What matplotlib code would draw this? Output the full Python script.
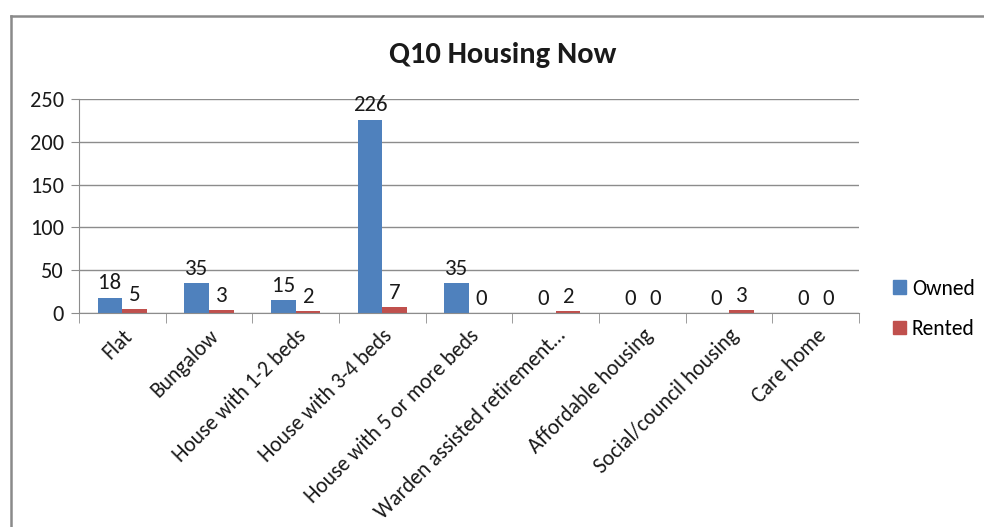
import matplotlib.pyplot as plt
import numpy as np
from matplotlib.lines import Line2D
from matplotlib.patches import Patch

plt.rcParams['font.family'] = ['Carlito', 'Liberation Sans Narrow', 'Open Sans', 'DejaVu Sans']

categories = [
    "Flat", "Bungalow", "House with 1-2 beds", "House with 3-4 beds",
    "House with 5 or more beds", "Warden assisted retirement…",
    "Affordable housing", "Social/council housing", "Care home",
]
owned = [18, 35, 15, 226, 35, 0, 0, 0, 0]
rented = [5, 3, 2, 7, 0, 2, 0, 3, 0]
yticks = [0, 50, 100, 150, 200, 250]

OWNED_COLOR = "#4F81BD"
RENTED_COLOR = "#C0504D"
GRID = "#8c8c8c"
TXT = "#1a1a1a"

fig = plt.figure(figsize=(9.84, 5.27), dpi=100)
ax = fig.add_axes([79 / 984, 214 / 527, 780 / 984, 214 / 527])

x = np.arange(len(categories))
w = 1 / 3.5
b1 = ax.bar(x - w / 2, owned, w, color=OWNED_COLOR)
b2 = ax.bar(x + w / 2, rented, w, color=RENTED_COLOR)

for bars, vals in ((b1, owned), (b2, rented)):
    for bar, v in zip(bars, vals):
        ax.annotate(str(v), (bar.get_x() + bar.get_width() / 2, v),
                    xytext=(0, 3), textcoords="offset points",
                    ha="center", va="bottom", fontsize=16.5, color=TXT)

ax.set_xlim(-0.5, len(categories) - 0.5)
ax.set_ylim(0, 250)
ax.set_yticks(yticks)
ax.yaxis.grid(True, color=GRID, linewidth=1)
ax.set_axisbelow(True)
for s in ("top", "right"):
    ax.spines[s].set_visible(False)
for s in ("left", "bottom"):
    ax.spines[s].set_color(GRID)
ax.tick_params(axis="y", length=6, color=GRID, labelsize=16, labelcolor=TXT, pad=5)

# category boundary ticks on x
ax.set_xticks(np.arange(-0.5, len(categories)), minor=True)
ax.set_xticks(x)
ax.set_xticklabels(categories, rotation=45, ha="right", rotation_mode="anchor",
                   fontsize=15.5, color=TXT)
ax.tick_params(axis="x", which="major", length=0, pad=9)
ax.tick_params(axis="x", which="minor", length=7, color=GRID)

fig.text(0.511, 0.896, "Q10 Housing Now", ha="center", va="center",
         fontsize=22, fontweight="bold", color=TXT)

# outer chart frame (cropped at right and bottom)
fig.add_artist(Line2D([11 / 984, 11 / 984], [0, 1 - 16 / 527],
                      transform=fig.transFigure, color="#8a8a8a", lw=1.8))
fig.add_artist(Line2D([11 / 984, 1], [1 - 16 / 527, 1 - 16 / 527],
                      transform=fig.transFigure, color="#8a8a8a", lw=1.8))

handles = [Patch(color=OWNED_COLOR, label="Owned"),
           Patch(color=RENTED_COLOR, label="Rented")]
fig.legend(handles=handles, loc="upper left", bbox_to_anchor=(884 / 984, 1 - 270 / 527),
           frameon=False, fontsize=15.5, handlelength=0.6, handleheight=0.6,
           handletextpad=0.3, labelspacing=0.95, borderaxespad=0)

fig.savefig("out.png", dpi=100)
